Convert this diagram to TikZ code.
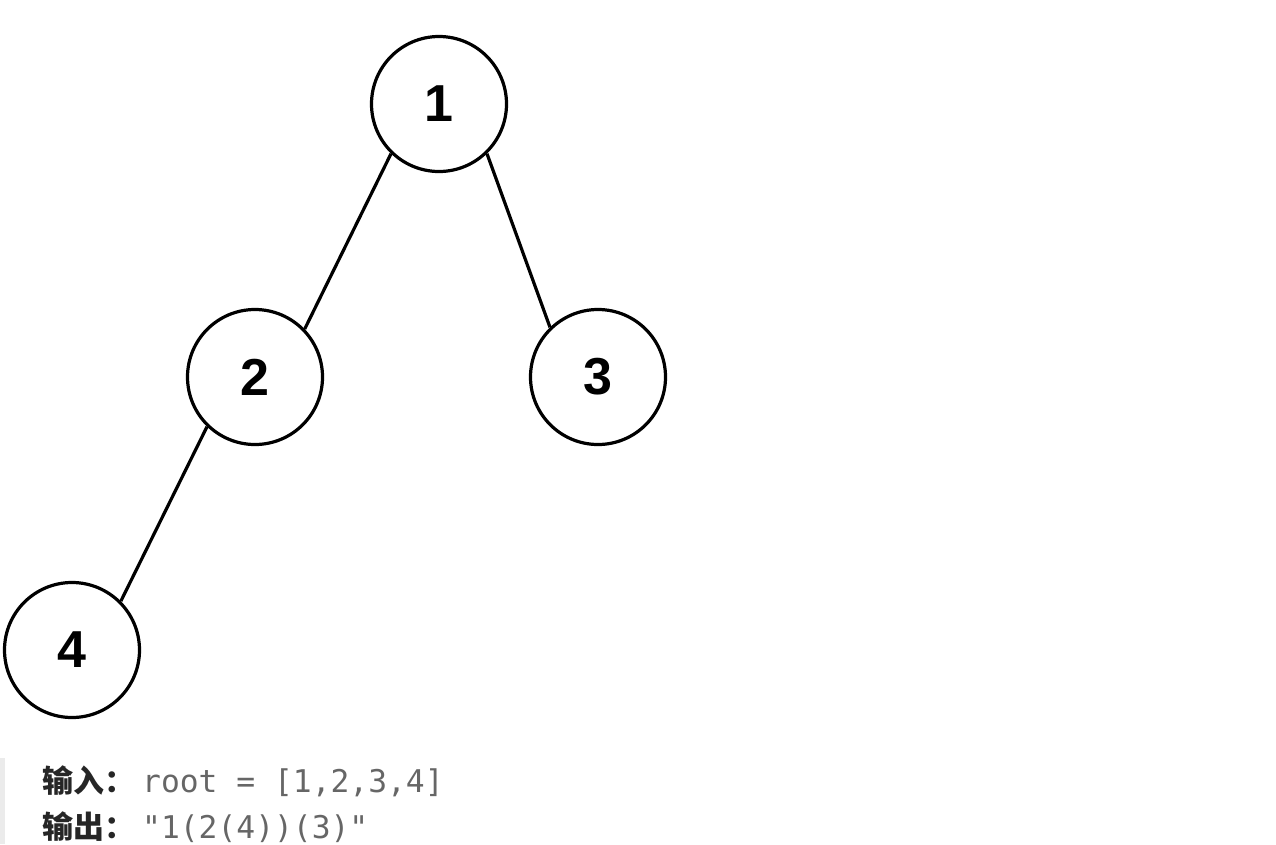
\documentclass[tikz,border=0pt]{standalone}
\usepackage{fontspec}
\setmainfont{Liberation Sans}
\newfontfamily\cjkbold{Noto Sans CJK SC}[BoldFont=* Black]
\newfontfamily\codefont{DejaVu Sans Mono}
\definecolor{codegray}{HTML}{666666}
\definecolor{labeldark}{HTML}{262626}
\definecolor{barcolor}{HTML}{EBEBEB}
\begin{document}
\begin{tikzpicture}[x=1pt,y=-1pt,
  treenode/.style={circle,draw=black,line width=3.2pt,minimum size=135pt,inner sep=0pt,
    font=\fontsize{52}{52}\selectfont\bfseries},
  edge/.style={line width=3.2pt,draw=black},
  cjklabel/.style={anchor=base west,inner sep=0pt,text=labeldark,
    font=\cjkbold\fontsize{31}{31}\selectfont\bfseries},
  codetext/.style={anchor=base west,inner sep=0pt,text=codegray,
    font=\codefont\fontsize{31.3}{31.3}\selectfont}]
\useasboundingbox (0,0) rectangle (1276,844);
\begin{scope}
\clip (0,0) rectangle (668,844);
\node[treenode] (n1) at (439,104) {1};
\node[treenode] (n2) at (255,377) {2};
\node[treenode] (n3) at (598,377) {3};
\node[treenode] (n4) at (72,650) {4};
\draw[edge] (n1.-134) -- (n2.44);
\draw[edge] (n1.-46) -- (n3.134);
\draw[edge] (n2.-134) -- (n4.45);
\end{scope}
\fill[barcolor] (0,758) rectangle (5,844) coordinate (barend);
\node[cjklabel] (in) at (42,792) {输入：};
\node[codetext] (inv) at (142,792) {root = [1,2,3,4]};
\node[cjklabel] (out) at (42,838) {输出：};
\node[codetext] (outv) at (142,838) {"1(2(4))(3)"};
\end{tikzpicture}
\end{document}
